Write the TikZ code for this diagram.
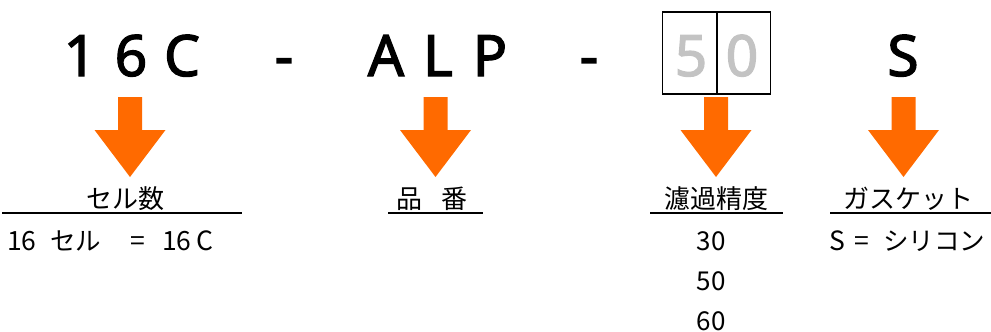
\documentclass[tikz,border=0pt]{standalone}
\usepackage{fontspec}
\setmainfont{Noto Sans CJK JP}
\newfontfamily\bigfont[FakeBold=2.2]{Noto Sans}
\definecolor{arroworange}{HTML}{FF6A00}
\definecolor{digitgray}{HTML}{C3C3C3}
\begin{document}
\begin{tikzpicture}[x=1pt,y=-1pt,
  bigchar/.style={anchor=base,inner sep=0pt,font=\bigfont\fontsize{57}{57}\selectfont},
  labeltext/.style={anchor=base,inner sep=0pt,font=\fontsize{26}{26}\selectfont},
  valtext/.style={anchor=base west,inner sep=0pt,font=\fontsize{26.5}{26.5}\selectfont},
  kanatext/.style={anchor=base west,inner sep=0pt,font=\fontsize{25.5}{25.5}\selectfont},
  numtext/.style={anchor=base,inner sep=0pt,font=\fontsize{26}{26}\selectfont},
  uline/.style={line width=1.5pt},
  downarrow/.pic={\fill[arroworange] (-12,0) -- (12,0) -- (12,33) -- (35.5,33) -- (0,80) -- (-35.5,33) -- (-12,33) -- cycle;}
]
\useasboundingbox (0,0) rectangle (991,332);
% top code
\node[bigchar] (c1) at (80,76) {1};
\node[bigchar] (c2) at (131,76) {6};
\node[bigchar] (c3) at (182,76) {C};
\node[bigchar] (d1) at (284,76) {-};
\node[bigchar] (c4) at (386,76) {A};
\node[bigchar] (c5) at (438,76) {L};
\node[bigchar] (c6) at (490,76) {P};
\node[bigchar] (d2) at (589,76) {-};
\node[bigchar,text=digitgray] (c7) at (691,76) {5};
\node[bigchar,text=digitgray] (c8) at (742,76) {0};
\node[bigchar] (c9) at (903,76) {S};
\draw[line width=1.3pt] (662.5,12) rectangle (770.5,94);
\draw[line width=1.3pt] (717,12) -- (717,94);
% arrows
\pic at (130,97) {downarrow};
\pic at (435.5,97) {downarrow};
\pic at (716,97) {downarrow};
\pic at (903.5,97) {downarrow};
% headings
\node[labeltext] (h1) at (125,208) {セル数};
\node[labeltext] (h2) at (432,208) {品\hspace{0.7em}番};
\node[labeltext] (h3) at (716,208) {濾過精度};
\node[labeltext] (h4) at (908,208) {ガスケット};
\draw[uline] (2,213) -- (242,213);
\draw[uline] (388,213) -- (483,213);
\draw[uline] (650,213) -- (783,213);
\draw[uline] (830,213) -- (991,213);
% values
\node[valtext] (v1a) at (7,250) {16};
\node[kanatext] (v1b) at (50,250) {セル};
\node[valtext] (v1c) at (130,250) {=};
\node[valtext] (v1d) at (162,250) {16};
\node[valtext] (v1e) at (196,250) {C};
\node[numtext] (v2) at (711,250) {30};
\node[numtext] (v3) at (711,290) {50};
\node[numtext] (v4) at (711,330) {60};
\node[valtext] (v5a) at (829,250) {S};
\node[valtext] (v5b) at (854,250) {=};
\node[kanatext] (v5c) at (883,250) {シリコン};
\end{tikzpicture}
\end{document}
